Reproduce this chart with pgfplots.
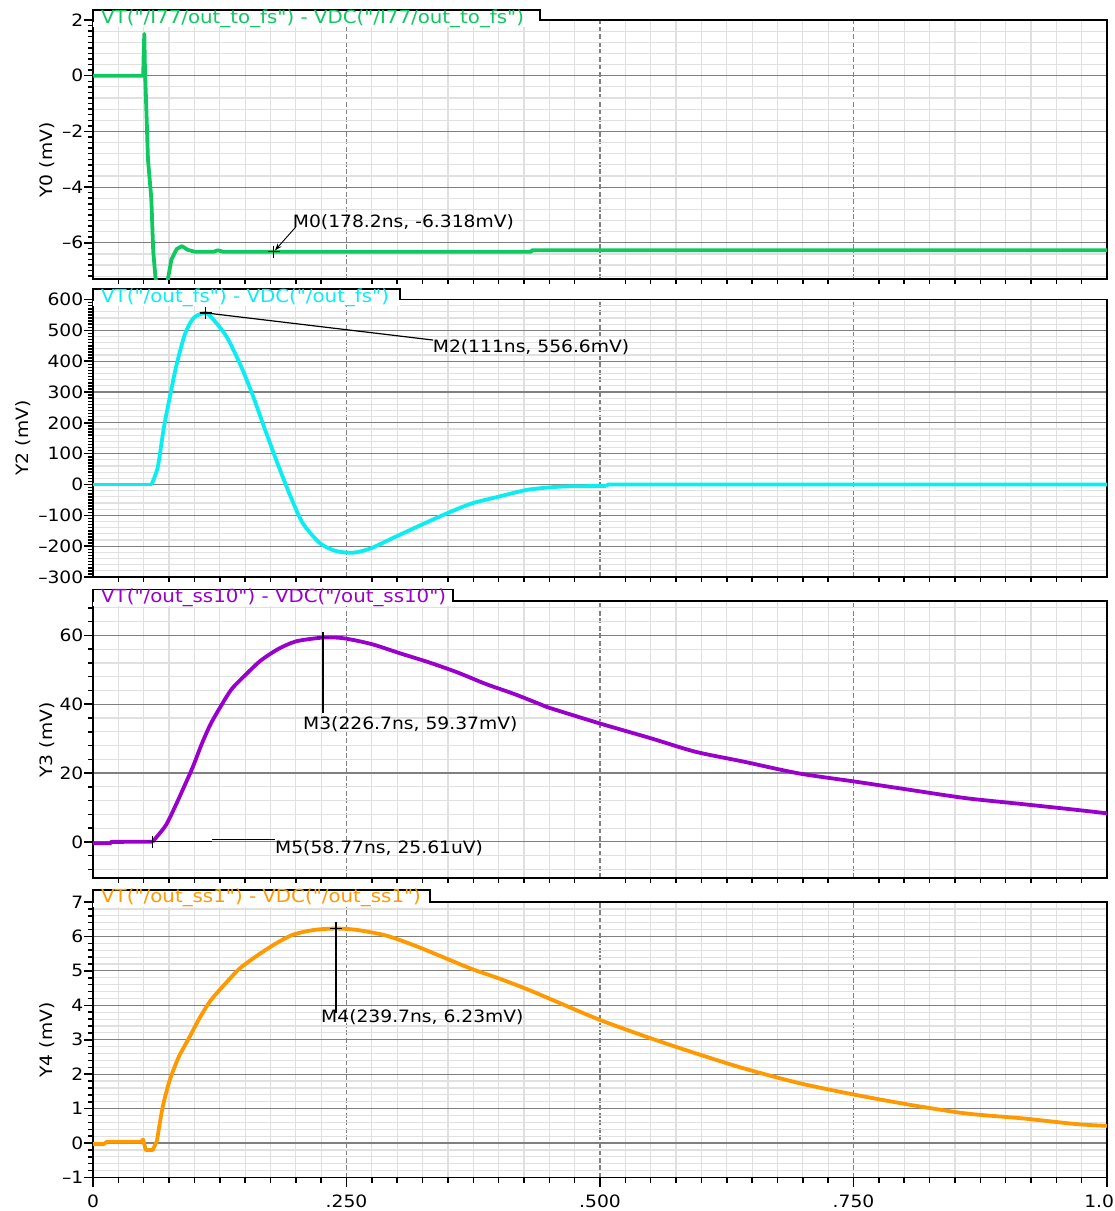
\documentclass[border=0pt]{standalone}
\usepackage{fontspec}
\setmainfont{DejaVu Sans}[FakeStretch=1.1, Ligatures=TeXOff]
\usepackage{pgfplots}
\pgfplotsset{compat=1.18}
\usetikzlibrary{arrows.meta}
\definecolor{cgreen}{RGB}{16,200,96}
\definecolor{ccyan}{RGB}{10,238,242}
\definecolor{cpurple}{RGB}{153,0,204}
\definecolor{corange}{RGB}{255,153,0}
\definecolor{gmajor}{RGB}{128,128,128}
\definecolor{gminor}{RGB}{224,224,224}
\newcommand\fs{\fontsize{17}{20}\selectfont}
\newcommand\fl{\fontsize{18}{21}\selectfont}
\pgfplotsset{
 wave/.style={
  scale only axis, width=1014pt, xmin=0, xmax=1,
  xtick={0,0.25,0.5,0.75,1}, minor x tick num=9,
  xticklabels={},
  grid=both,
  minor grid style={color=gminor, line width=1.2pt},
  major grid style={color=gmajor, line width=1.2pt},
  major x grid style={dash pattern=on 5pt off 2.5pt},
  axis line style={black, line width=1.8pt},
  tick style={black, line width=1.5pt},
  major tick length=9pt, minor tick length=5pt,
  tick align=outside, tick pos=left,
  yticklabel style={font=\fs, inner sep=0.5pt},
  xticklabel style={font=\fs, inner sep=0pt, yshift=-8pt},
  extra y tick style={grid=none, major tick length=5pt},
  extra y tick labels={},
 },
 curve/.style={no marks, line width=3.8pt, line join=round},
 mk/.style={black, only marks, mark=+, mark size=6pt, mark options={line width=1.3pt}},
}
\begin{document}
\begin{tikzpicture}
\path[use as bounding box] (0pt,0pt) rectangle (1115pt,-1211pt);

% ---------------- Panel 1 ----------------
\begin{axis}[wave, at={(93pt,-279pt)}, anchor=south west, height=259pt,
  ymin=-7.3, ymax=2,
  ytick={-6,-4,-2,0,2}, yticklabels={–6,–4,–2,0,2},
  minor ytick={-7.2,-6.8,-6.4,-5.6,-5.2,-4.8,-4.4,-3.6,-3.2,-2.8,-2.4,-1.6,-1.2,-0.8,-0.4,0.4,0.8,1.2,1.6},
  extra y ticks={-7.0,-6.6,-6.2,-5.8,-5.4,-5.0,-4.6,-4.2,-3.8,-3.4,-3.0,-2.6,-2.2,-1.8,-1.4,-1.0,-0.6,-0.2,0.2,0.6,1.0,1.4,1.8},
  xmajorticks=false, xminorticks=false]
\addplot[curve, cgreen] coordinates {(0,0)(0.0495,0)(0.0500,0.8)(0.0506,1.5)(0.0512,0.3)(0.0527,-1.3)(0.0542,-3.0)(0.0575,-4.4)(0.0594,-6.3)(0.0615,-7.2)(0.0640,-7.8)(0.0700,-7.9)(0.0739,-7.3)(0.0773,-6.6)(0.0826,-6.22)(0.0878,-6.12)(0.0932,-6.25)(0.1002,-6.32)(0.1193,-6.32)(0.1230,-6.27)(0.1282,-6.32)(0.432,-6.32)(0.433,-6.27)(1,-6.27)};
\addplot[mk] coordinates {(0.1782,-6.318)};
\draw[-{Stealth[length=7pt,width=5pt]}, line width=0.9pt] (axis cs:0.2,-5.43) -- (axis cs:0.1795,-6.27);
\node[anchor=west, inner sep=0pt, font=\fs] at (axis cs:0.197,-5.27) {M0(178.2ns, -6.318mV)};
\end{axis}
\fill[white] (93pt,-10pt) rectangle (540pt,-27pt);
\draw[black, line width=1.6pt] (93pt,-22pt) -- (93pt,-10pt) -- (540pt,-10pt) -- (540pt,-20pt) -- (1107pt,-20pt);
\node[anchor=west, inner sep=0pt, font=\fl, text=cgreen] at (101pt,-19pt) {VT("/I77/out\_to\_fs") - VDC("/I77/out\_to\_fs")};
\node[rotate=90, font=\fs] at (47pt,-160pt) {Y0 (mV)};

% ---------------- Panel 2 ----------------
\begin{axis}[wave, at={(93pt,-577pt)}, anchor=south west, height=277.5pt,
  ymin=-300, ymax=600,
  ytick={-300,-200,...,600}, yticklabels={–300,–200,–100,0,100,200,300,400,500,600},
  minor ytick={-280,-260,-240,-220,-180,-160,-140,-120,-80,-60,-40,-20,20,40,60,80,120,140,160,180,220,240,260,280,320,340,360,380,420,440,460,480,520,540,560,580},
  extra y ticks={-290,-270,...,595},
  xmajorticks=false, xminorticks=false]
\addplot[curve, ccyan] coordinates {(0,0)(0.0577,0)};
\addplot[curve, ccyan, smooth, tension=0.45] coordinates {(0.0577,0)(0.0639,57)(0.070,187)(0.0764,294)(0.0826,391)(0.0907,488)(0.0992,540)(0.111,556.6)(0.120,530)(0.132,478)(0.145,391)(0.157,294)(0.170,175)(0.182,68)(0.195,-40)(0.207,-126)(0.224,-191)(0.240,-216)(0.257,-221)(0.274,-207)(0.298,-170)(0.323,-132)(0.348,-95)(0.373,-62)(0.398,-41)(0.427,-18)(0.448,-10)(0.468,-6)(0.506,-5)};
\addplot[curve, ccyan] coordinates {(0.506,-5)(0.508,0)(1,0)};
\addplot[mk] coordinates {(0.111,556.6)};
\draw[line width=1.2pt] (axis cs:0.111,556.6) -- (axis cs:0.3353,468.6);
\node[anchor=west, inner sep=0pt, font=\fs] at (axis cs:0.335,446) {M2(111ns, 556.6mV)};
\end{axis}
\fill[white] (93pt,-289pt) rectangle (400pt,-306pt);
\draw[black, line width=1.6pt] (93pt,-301pt) -- (93pt,-289pt) -- (400pt,-289pt) -- (400pt,-299.5pt) -- (1107pt,-299.5pt);
\node[anchor=west, inner sep=0pt, font=\fl, text=ccyan] at (101pt,-297.5pt) {VT("/out\_fs") - VDC("/out\_fs")};
\node[rotate=90, font=\fs] at (23pt,-438pt) {Y2 (mV)};

% ---------------- Panel 3 ----------------
\begin{axis}[wave, at={(93pt,-878pt)}, anchor=south west, height=277pt,
  ymin=-10.5, ymax=70,
  ytick={0,20,40,60}, yticklabels={0,20,40,60},
  minor ytick={-8,-4,4,8,12,16,24,28,32,36,44,48,52,56,64,68},
  xmajorticks=false, xminorticks=false]
\addplot[curve, cpurple] coordinates {(0,-0.4)(0.017,-0.4)(0.018,0)(0.05877,0.03)};
\addplot[curve, cpurple, smooth, tension=0.45] coordinates {(0.05877,0.03)(0.063,1.5)(0.072,4.9)(0.0809,10.2)(0.0898,16)(0.0985,21.8)(0.1073,28.5)(0.1161,34.3)(0.1266,39.7)(0.137,44.5)(0.1513,48.8)(0.1654,52.7)(0.1830,56.1)(0.2006,58.3)(0.2267,59.37)(0.2465,59.2)(0.2745,57.5)(0.3028,54.8)(0.331,52.2)(0.359,49.3)(0.3873,45.9)(0.4152,43)(0.441,40.0)(0.4507,38.9)(0.5,34.4)(0.5503,30.1)(0.594,26.2)(0.642,23.3)(0.696,19.9)(0.752,17.5)(0.806,15.1)(0.861,12.7)(0.916,11)(0.970,9.3)(1,8.3)};
\addplot[mk] coordinates {(0.2267,59.37)(0.05877,0.0256)};
\draw[line width=1.3pt] (axis cs:0.2267,61) -- (axis cs:0.2267,37.45);
\draw[line width=1.3pt] (axis cs:0.05877,0.05) -- (axis cs:0.1178,0.05);
\draw[line width=1.3pt] (axis cs:0.1178,0.69) -- (axis cs:0.1795,0.69);
\node[anchor=west, inner sep=0pt, font=\fs] at (axis cs:0.2071,34.25) {M3(226.7ns, 59.37mV)};
\node[anchor=west, inner sep=0pt, font=\fs] at (axis cs:0.1795,-1.78) {M5(58.77ns, 25.61uV)};
\end{axis}
\fill[white] (93pt,-589.5pt) rectangle (453pt,-606pt);
\draw[black, line width=1.6pt] (93pt,-602pt) -- (93pt,-589.5pt) -- (453pt,-589.5pt) -- (453pt,-601pt) -- (1107pt,-601pt);
\node[anchor=west, inner sep=0pt, font=\fl, text=cpurple] at (101pt,-597.5pt) {VT("/out\_ss10") - VDC("/out\_ss10")};
\node[rotate=90, font=\fs] at (47pt,-740pt) {Y3 (mV)};

% ---------------- Panel 4 ----------------
\begin{axis}[wave, at={(93pt,-1177.5pt)}, anchor=south west, height=275.5pt,
  ymin=-1, ymax=7,
  ytick={-1,0,...,7}, yticklabels={–1,0,1,2,3,4,5,6,7},
  minor ytick={-0.8,-0.6,-0.4,-0.2,0.2,0.4,0.6,0.8,1.2,1.4,1.6,1.8,2.2,2.4,2.6,2.8,3.2,3.4,3.6,3.8,4.2,4.4,4.6,4.8,5.2,5.4,5.6,5.8,6.2,6.4,6.6,6.8},
  xticklabels={0,.250,.500,.750,{\makebox[14pt][r]{1.0}}}]
\addplot[curve, corange] coordinates {(0,-0.03)(0.0105,-0.03)(0.0138,0.04)(0.0473,0.04)(0.0495,0.1)(0.052,-0.2)(0.059,-0.2)(0.0631,0.07)};
\addplot[curve, corange, smooth, tension=0.45] coordinates {(0.0631,0.07)(0.0686,1.03)(0.0755,1.81)(0.0844,2.49)(0.0950,3.07)(0.1055,3.65)(0.116,4.14)(0.1302,4.62)(0.1443,5.06)(0.1617,5.44)(0.1795,5.78)(0.1971,6.05)(0.2182,6.19)(0.2397,6.23)(0.2603,6.19)(0.2887,6.03)(0.3169,5.74)(0.3451,5.4)(0.3732,5.06)(0.4014,4.77)(0.4296,4.45)(0.4576,4.1)(0.5004,3.57)(0.5503,3.04)(0.594,2.61)(0.6417,2.17)(0.6965,1.74)(0.752,1.40)(0.806,1.11)(0.861,0.86)(0.9157,0.72)(0.9704,0.55)(1,0.50)};
\addplot[mk] coordinates {(0.2397,6.23)};
\draw[line width=1.3pt] (axis cs:0.2397,6.43) -- (axis cs:0.2397,3.77);
\node[anchor=west, inner sep=0pt, font=\fs] at (axis cs:0.2249,3.67) {M4(239.7ns, 6.23mV)};
\end{axis}
\fill[white] (93pt,-890pt) rectangle (430pt,-907pt);
\draw[black, line width=1.6pt] (93pt,-903pt) -- (93pt,-890pt) -- (430pt,-890pt) -- (430pt,-902pt) -- (1107pt,-902pt);
\node[anchor=west, inner sep=0pt, font=\fl, text=corange] at (101pt,-898pt) {VT("/out\_ss1") - VDC("/out\_ss1")};
\node[rotate=90, font=\fs] at (47pt,-1040pt) {Y4 (mV)};
\end{tikzpicture}
\end{document}
